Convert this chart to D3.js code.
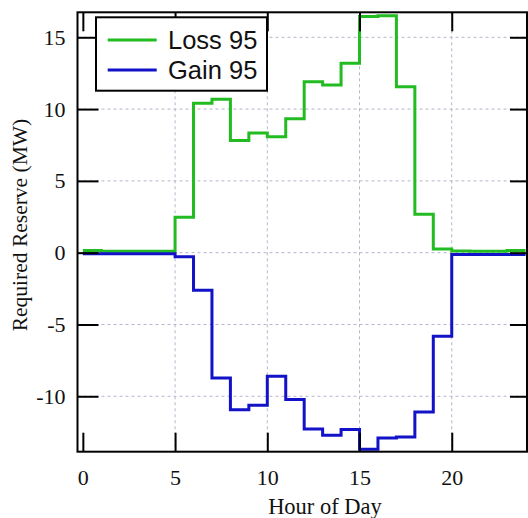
<!DOCTYPE html>
<html>
<head>
<meta charset="utf-8">
<script src="https://cdn.jsdelivr.net/npm/d3@7"></script>
<style>
  html, body { margin: 0; padding: 0; background: #fff; }
  svg { display: block; }
</style>
</head>
<body>
<svg id="chart" width="528" height="518"></svg>
<script>
// ---- data ----
const hours = d3.range(0, 24);               // hour-of-day start of each step
const loss95 = [0.15, 0.1, 0.1, 0.1, 0.1, 2.47, 10.4, 10.68, 7.82, 8.33, 8.07, 9.33,
                11.9, 11.67, 13.2, 16.45, 16.5, 11.55, 2.68, 0.26, 0.12, 0.1, 0.1, 0.15];
const gain95 = [-0.08, -0.08, -0.08, -0.08, -0.08, -0.29, -2.61, -8.72, -10.93, -10.63, -8.6, -10.23,
                -12.28, -12.72, -12.32, -13.69, -12.9, -12.83, -11.09, -5.82, -0.12, -0.12, -0.12, -0.12];
const xTicks = [0, 5, 10, 15, 20];
const yTicks = [-10, -5, 0, 5, 10, 15];
const seriesNames = ["Loss 95", "Gain 95"];
const seriesColors = ["#22bb22", "#1212c8"];

// ---- layout ----
const svg = d3.select("#chart");
const L = 77.5, R = 527, T = 12.3, B = 451.7;
const x = d3.scaleLinear().domain([-0.29, 24.08]).range([L, R]);
const y = d3.scaleLinear().domain([-13.86, 16.74]).range([B, T]);
const serif = "'Liberation Serif', 'Times New Roman', serif";
const sans = "'Liberation Sans', Arial, sans-serif";
const fmt = d => String(d);

// grid
const grid = svg.append("g").attr("stroke", "#b4b4cc").attr("stroke-width", 1).attr("stroke-dasharray", "3,3");
grid.selectAll("line.gx").data(xTicks.filter(d => d > 0)).join("line")
  .attr("x1", d => x(d)).attr("x2", d => x(d)).attr("y1", T).attr("y2", B);
grid.selectAll("line.gy").data(yTicks).join("line")
  .attr("y1", d => y(d)).attr("y2", d => y(d)).attr("x1", L).attr("x2", R);

// series (step lines)
function stepData(vals) {
  const pts = hours.map((h, i) => [h, vals[i]]);
  pts.push([24, vals[vals.length - 1]]);
  return pts;
}
const line = d3.line().x(d => x(d[0])).y(d => y(d[1])).curve(d3.curveStepAfter);
[loss95, gain95].forEach((vals, i) => {
  svg.append("path").attr("d", line(stepData(vals)))
    .attr("fill", "none").attr("stroke", seriesColors[i]).attr("stroke-width", 3)
    .attr("stroke-linejoin", "miter");
});

// axes (ticks inward, mirrored)
const tickLen = 19;
const axB = svg.append("g").attr("transform", `translate(0,${B})`)
  .call(d3.axisBottom(x).tickValues(xTicks).tickSize(-tickLen).tickPadding(14).tickFormat(fmt));
const axT = svg.append("g").attr("transform", `translate(0,${T})`)
  .call(d3.axisTop(x).tickValues(xTicks).tickSize(-tickLen).tickFormat(""));
const axL = svg.append("g").attr("transform", `translate(${L},0)`)
  .call(d3.axisLeft(y).tickValues(yTicks).tickSize(-21).tickPadding(12).tickFormat(fmt));
const axR = svg.append("g").attr("transform", `translate(${R},0)`)
  .call(d3.axisRight(y).tickValues(yTicks).tickSize(-17).tickFormat(""));
[axB, axT, axL, axR].forEach(g => {
  g.select(".domain").remove();
  g.selectAll(".tick line").attr("stroke", "#000").attr("stroke-width", 2);
  g.selectAll(".tick text").attr("font-family", serif).attr("font-size", 22).attr("fill", "#111");
});
axB.selectAll(".tick text").attr("dy", 0).attr("y", 485 - B);

// frame
svg.append("rect").attr("x", L).attr("y", T).attr("width", R - L).attr("height", B - T)
  .attr("fill", "none").attr("stroke", "#000").attr("stroke-width", 2);

// axis labels
svg.append("text").attr("x", 325).attr("y", 514).attr("text-anchor", "middle")
  .attr("font-family", serif).attr("font-size", 22.5).attr("fill", "#111").text("Hour of Day");
svg.append("text").attr("transform", "translate(27,225) rotate(-90)").attr("text-anchor", "middle")
  .attr("font-family", serif).attr("font-size", 21.5).attr("fill", "#111").text("Required Reserve (MW)");

// legend
const lg = svg.append("g");
lg.append("rect").attr("x", 96).attr("y", 17.3).attr("width", 171).attr("height", 73.4)
  .attr("fill", "#fff").attr("stroke", "#000").attr("stroke-width", 2);
seriesNames.forEach((name, i) => {
  const yy = 40 + i * 30;
  lg.append("line").attr("x1", 107.7).attr("x2", 156.7).attr("y1", yy).attr("y2", yy)
    .attr("stroke", seriesColors[i]).attr("stroke-width", 3);
  lg.append("text").attr("x", 168).attr("y", yy + 9).attr("font-family", sans).attr("font-size", 25.5)
    .attr("fill", "#111").text(name);
});
</script>
</body>
</html>
